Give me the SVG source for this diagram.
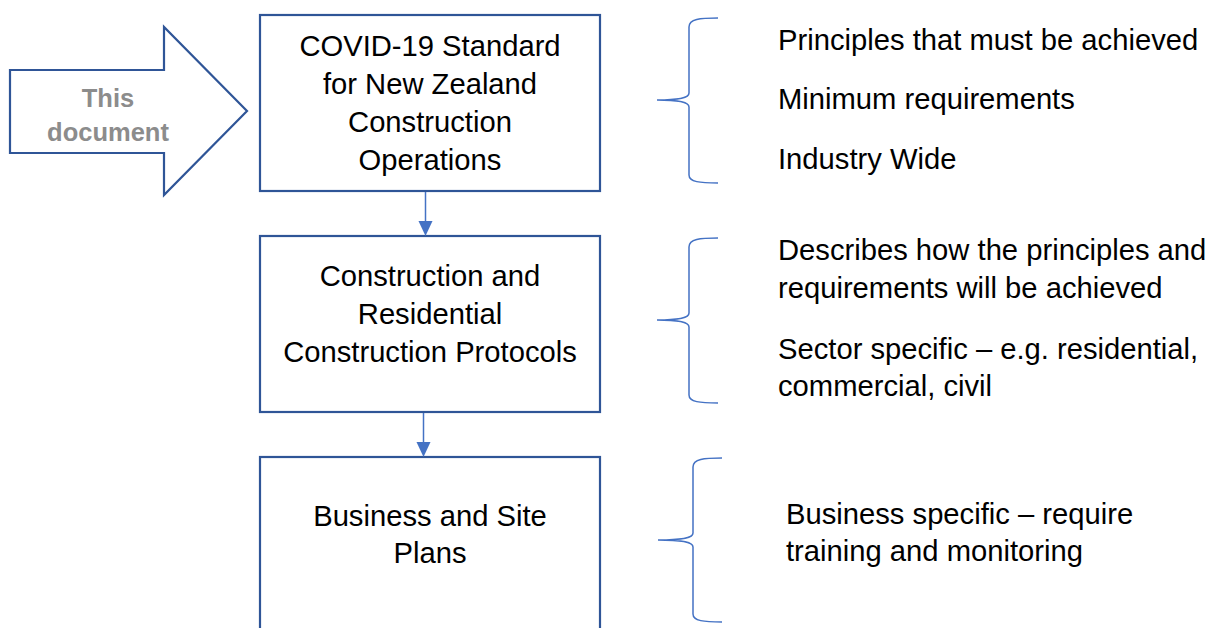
<svg xmlns="http://www.w3.org/2000/svg" width="1211" height="628" viewBox="0 0 1211 628">
<style>
.box{fill:#fff;stroke:#2F5597;stroke-width:2.2}
.t{font-family:"Liberation Sans",Arial,sans-serif;font-size:29.2px;fill:#000}
.c{text-anchor:middle}
.brace{fill:none;stroke:#4472C4;stroke-width:1.5}
.conn{stroke:#4472C4;stroke-width:1.5;fill:none}
.doc{font-family:"Liberation Sans",Arial,sans-serif;font-size:25.5px;font-weight:bold;fill:#8C8C8C;text-anchor:middle}
</style>
<rect width="1211" height="628" fill="#fff"/>
<g id="this-document">
<polygon points="10,70 164,70 164,27 247,111 164,195 164,153 10,153" fill="#fff" stroke="#2F5597" stroke-width="2.2"/>
<text class="doc" x="108" y="107">This</text>
<text class="doc" x="108" y="141">document</text>
</g>
<g id="standard">
<rect class="box" x="260" y="15" width="340" height="176"/>
<text class="t c" x="430" y="56">COVID-19 Standard</text>
<text class="t c" x="430" y="94">for New Zealand</text>
<text class="t c" x="430" y="132">Construction</text>
<text class="t c" x="430" y="170">Operations</text>
</g>
<g id="protocols">
<rect class="box" x="260" y="236" width="340" height="176"/>
<text class="t c" x="430" y="286">Construction and</text>
<text class="t c" x="430" y="324">Residential</text>
<text class="t c" x="430" y="362">Construction Protocols</text>
</g>
<g id="plans">
<rect class="box" x="260" y="457" width="340" height="190"/>
<text class="t c" x="430" y="526">Business and Site</text>
<text class="t c" x="430" y="563">Plans</text>
</g>
<g id="connectors">
<line class="conn" x1="425.5" y1="192" x2="425.5" y2="221"/>
<path d="M418.5,221 L432.5,221 L425.5,236 z" fill="#4472C4"/>
<line class="conn" x1="423.5" y1="413" x2="423.5" y2="442"/>
<path d="M416.5,442 L430.5,442 L423.5,457 z" fill="#4472C4"/>
</g>
<g id="brace1">
<path class="brace" d="M718,18 C700,18 689,19 689,27 L689,93 C689,98 680,100 657,100 C680,100 689,102 689,107 L689,175 C689,182 700,183 718,183"/>
<text class="t" x="778" y="50">Principles that must be achieved</text>
<text class="t" x="778" y="109">Minimum requirements</text>
<text class="t" x="778" y="169">Industry Wide</text>
</g>
<g id="brace2">
<path class="brace" d="M718,238 C700,238 689,239 689,247 L689,313 C689,318 680,320 657,320 C680,320 689,322 689,327 L689,395 C689,402 700,403 718,403"/>
<text class="t" x="778" y="260">Describes how the principles and</text>
<text class="t" x="778" y="298">requirements will be achieved</text>
<text class="t" x="778" y="359">Sector specific – e.g. residential,</text>
<text class="t" x="778" y="396">commercial, civil</text>
</g>
<g id="brace3">
<path class="brace" d="M722,458 C704,458 693,459 693,467 L693,533 C693,538 684,540 658,540 C684,540 693,542 693,547 L693,614 C693,621 704,622 722,622"/>
<text class="t" x="786" y="524">Business specific – require</text>
<text class="t" x="786" y="561">training and monitoring</text>
</g>
</svg>
